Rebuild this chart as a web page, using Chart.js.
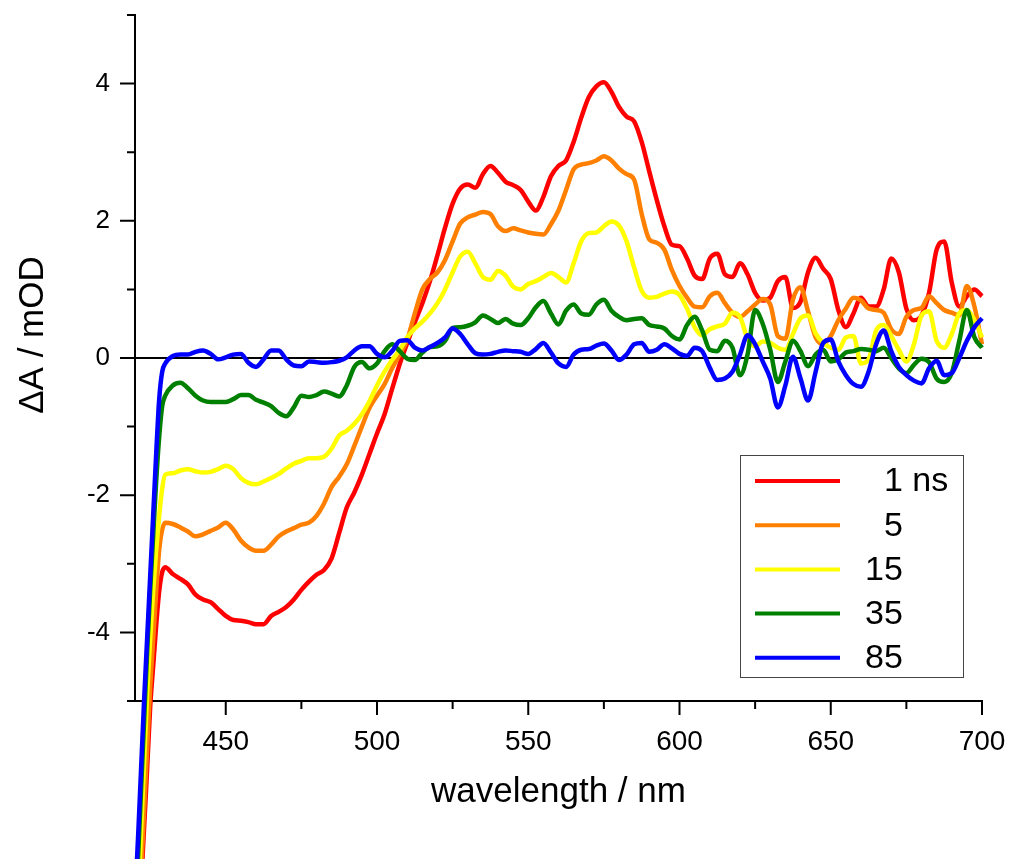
<!DOCTYPE html>
<html><head><meta charset="utf-8">
<style>html,body{margin:0;padding:0;background:#fff;}#wrap{width:1011px;height:859px;}</style>
</head><body><div id="wrap"><canvas id="c" width="1011" height="859"></canvas></div>
<script src="https://cdn.jsdelivr.net/npm/chart.js@4"></script>
<script>
const wavelengths = [420,421,422,423,424,425,426,427,428,429,
430,432.5,435,437.5,440,442.5,445,447.5,450,452.5,455,457.5,460,462.5,465,467.5,470,472.5,475,477.5,480,482.5,485,487.5,490,492.5,495,497.5,500,
502.5,505,507.5,510,512.5,515,517.5,520,522.5,525,527.5,530,532.5,535,537.5,540,542.5,545,547.5,550,
552.5,555,557.5,560,562.5,565,567.5,570,572.5,575,577.5,580,582.5,585,587.5,590,592.5,595,597.5,600,
602.5,605,607.5,610,612.5,615,617.5,620,622.5,625,627.5,630,632.5,635,637.5,640,642.5,645,647.5,650,
652.5,655,657.5,660,662.5,665,667.5,670,672.5,675,677.5,680,682.5,685,687.5,690,692.5,695,697.5,700];

const s1ns = [-9.5,-8.6,-7.7,-6.85,-6.0,-5.1,-4.5,-3.9,-3.4,-3.12,
-3.05,-3.15,-3.22,-3.30,-3.45,-3.52,-3.56,-3.66,-3.76,-3.82,-3.83,-3.85,-3.88,-3.88,-3.76,-3.70,-3.63,-3.52,-3.38,-3.26,-3.16,-3.09,-2.92,-2.55,-2.18,-1.96,-1.70,-1.40,-1.10,
-0.82,-0.45,-0.09,0.22,0.52,0.80,1.12,1.50,1.90,2.25,2.47,2.53,2.48,2.68,2.80,2.70,2.57,2.52,2.45,2.28,
2.15,2.35,2.65,2.80,2.88,3.15,3.50,3.80,3.96,4.02,3.88,3.66,3.52,3.45,3.15,2.72,2.30,1.92,1.65,1.63,
1.45,1.20,1.15,1.45,1.52,1.22,1.18,1.38,1.22,0.95,0.84,0.88,1.12,1.18,0.73,0.82,1.25,1.46,1.30,1.15,
0.70,0.45,0.65,0.88,0.75,0.75,1.00,1.45,1.25,0.72,0.55,0.62,0.95,1.58,1.70,1.10,0.75,0.90,1.00,0.90];

const s5ns = [-9.3,-8.4,-7.5,-6.6,-5.7,-4.8,-4.1,-3.4,-2.8,-2.5,
-2.40,-2.42,-2.47,-2.53,-2.60,-2.57,-2.52,-2.47,-2.40,-2.50,-2.66,-2.76,-2.81,-2.81,-2.72,-2.60,-2.53,-2.48,-2.43,-2.40,-2.30,-2.12,-1.88,-1.73,-1.55,-1.28,-1.00,-0.73,-0.55,
-0.38,-0.15,0.05,0.27,0.65,1.00,1.15,1.25,1.43,1.70,1.96,2.05,2.09,2.13,2.10,1.92,1.85,1.89,1.86,1.83,
1.81,1.80,1.95,2.15,2.45,2.75,2.82,2.84,2.88,2.94,2.88,2.76,2.68,2.60,2.10,1.73,1.68,1.58,1.28,1.05,
0.88,0.75,0.74,0.90,0.95,0.80,0.66,0.60,0.68,0.78,0.86,0.78,0.32,0.28,0.85,1.03,0.68,0.30,0.20,0.32,
0.55,0.72,0.88,0.84,0.72,0.70,0.66,0.42,0.35,0.60,0.70,0.73,0.90,0.80,0.70,0.66,0.62,1.05,0.75,0.20];

const s15ns = [-8.9,-7.9,-6.9,-5.9,-4.9,-4.1,-3.4,-2.8,-2.3,-1.9,
-1.70,-1.68,-1.64,-1.62,-1.65,-1.67,-1.66,-1.62,-1.57,-1.62,-1.75,-1.82,-1.84,-1.80,-1.75,-1.69,-1.61,-1.54,-1.50,-1.46,-1.46,-1.44,-1.32,-1.13,-1.06,-0.96,-0.82,-0.63,-0.40,
-0.20,-0.03,0.12,0.30,0.43,0.53,0.65,0.80,1.00,1.25,1.48,1.55,1.38,1.18,1.14,1.27,1.20,1.04,1.00,1.08,
1.12,1.18,1.24,1.18,1.10,1.38,1.70,1.82,1.83,1.92,1.99,1.93,1.70,1.32,0.98,0.88,0.89,0.94,0.97,0.92,
0.72,0.45,0.33,0.42,0.46,0.50,0.66,0.60,0.28,0.17,0.24,0.22,0.15,0.12,0.35,0.58,0.62,0.36,0.22,0.15,
0.12,0.30,0.32,-0.08,-0.02,0.40,0.48,0.32,0.12,-0.05,0.20,0.62,0.68,0.25,0.15,0.35,0.65,0.70,0.55,0.30];

const s35ns = [-8.2,-7.3,-6.3,-5.3,-4.3,-3.4,-2.6,-1.8,-1.15,-0.7,
-0.55,-0.40,-0.36,-0.44,-0.55,-0.62,-0.64,-0.64,-0.64,-0.60,-0.54,-0.54,-0.61,-0.65,-0.70,-0.80,-0.85,-0.72,-0.55,-0.57,-0.54,-0.49,-0.52,-0.56,-0.40,-0.13,-0.06,-0.15,-0.08,
0.10,0.20,0.10,-0.01,-0.03,0.08,0.16,0.17,0.25,0.44,0.45,0.47,0.52,0.62,0.57,0.51,0.57,0.50,0.48,0.58,
0.74,0.83,0.65,0.49,0.69,0.78,0.65,0.63,0.78,0.85,0.69,0.60,0.55,0.57,0.58,0.48,0.46,0.43,0.32,0.27,
0.48,0.60,0.40,0.12,0.10,0.25,0.15,-0.25,0.05,0.70,0.50,0.12,-0.35,-0.05,0.25,0.10,-0.12,0.05,0.12,-0.05,
-0.02,0.08,0.10,0.13,0.12,0.10,0.15,0.00,-0.15,-0.22,-0.10,-0.01,-0.06,-0.30,-0.35,-0.22,0.25,0.70,0.30,0.15];

const s85ns = [-7.9,-7.0,-6.0,-5.0,-4.1,-3.2,-2.3,-1.4,-0.6,-0.2,
-0.08,0.03,0.05,0.05,0.09,0.11,0.06,-0.02,0.01,0.05,0.06,-0.07,-0.13,-0.02,0.11,0.11,-0.02,-0.11,-0.12,-0.05,-0.06,-0.07,-0.06,-0.04,0.01,0.11,0.17,0.17,0.06,
0.01,0.10,0.25,0.26,0.15,0.11,0.16,0.22,0.30,0.43,0.35,0.20,0.07,0.05,0.06,0.09,0.11,0.10,0.09,0.06,
0.13,0.22,0.08,-0.08,-0.13,0.05,0.12,0.13,0.18,0.21,0.11,-0.03,0.05,0.20,0.22,0.09,0.12,0.20,0.14,0.06,
0.03,0.15,0.10,-0.14,-0.32,-0.30,-0.20,0.05,0.33,0.20,-0.05,-0.30,-0.72,-0.40,0.02,-0.30,-0.62,-0.20,0.22,0.27,
-0.05,-0.25,-0.38,-0.42,-0.20,0.20,0.40,0.10,-0.13,-0.25,-0.33,-0.37,-0.15,-0.04,-0.25,-0.22,0.00,0.25,0.45,0.58];

const seriesLabels = ['1 ns', '5', '15', '35', '85'];
const seriesColors = ['#ff0000', '#ff8000', '#ffff00', '#008000', '#0000ff'];
const xTickValues = [450, 500, 550, 600, 650, 700];
const xMinorValues = [425, 475, 525, 575, 625, 675];
const yTickValues = [-4, -2, 0, 2, 4];
const yMinorValues = [-5, -3, -1, 1, 3, 5];
const xTitle = 'wavelength / nm';
const yTitle = '\u0394A / mOD';

const FONT = '"Liberation Sans", Arial, Helvetica, sans-serif';
const allSeries = [s1ns, s5ns, s15ns, s35ns, s85ns];

const decor = {
  id: 'decor',
  beforeDatasetsDraw(chart) {
    const {ctx, chartArea: a, scales: {x, y}} = chart;
    ctx.save();
    ctx.strokeStyle = '#000';
    ctx.lineWidth = 2;
    const y0 = y.getPixelForValue(0);
    ctx.beginPath(); ctx.moveTo(a.left, y0); ctx.lineTo(a.right, y0); ctx.stroke();
    ctx.beginPath();
    xTickValues.forEach(v => { const p = x.getPixelForValue(v); ctx.moveTo(p, a.bottom); ctx.lineTo(p, a.bottom + 14); });
    xMinorValues.forEach(v => { const p = x.getPixelForValue(v); ctx.moveTo(p, a.bottom); ctx.lineTo(p, a.bottom + 8); });
    yTickValues.forEach(v => { const p = y.getPixelForValue(v); ctx.moveTo(a.left - 15, p); ctx.lineTo(a.left, p); });
    yMinorValues.forEach(v => { const p = y.getPixelForValue(v); ctx.moveTo(a.left - 8, p); ctx.lineTo(a.left, p); });
    ctx.stroke();
    ctx.restore();
  },
  afterDraw(chart) {
    const {ctx, chartArea: a} = chart;
    ctx.save();
    ctx.fillStyle = '#000';
    ctx.font = '35px ' + FONT;
    ctx.textAlign = 'center';
    ctx.textBaseline = 'alphabetic';
    ctx.fillText(xTitle, (a.left + a.right) / 2, 802);
    ctx.save();
    ctx.translate(43, 335);
    ctx.rotate(-Math.PI / 2);
    ctx.fillText(yTitle, 0, 0);
    ctx.restore();
    // legend
    ctx.font = '34px ' + FONT;
    ctx.strokeStyle = '#444';
    ctx.lineWidth = 1;
    ctx.strokeRect(740.5, 455.5, 223, 222);
    const digitW = ctx.measureText('0').width;
    chart.data.datasets.forEach((ds, i) => {
      const ly = 481 + i * 44.2;
      ctx.strokeStyle = ds.borderColor;
      ctx.lineWidth = 4;
      ctx.beginPath(); ctx.moveTo(755, ly); ctx.lineTo(840, ly); ctx.stroke();
      ctx.textAlign = 'left';
      ctx.textBaseline = 'middle';
      const lbl = ds.label;
      const first = lbl.split(' ')[0];
      const off = first.length === 1 ? digitW : 0;
      ctx.fillText(lbl, 865 + off, ly + 1);
    });
    ctx.restore();
  }
};

const datasets = allSeries.map((s, i) => ({
  label: seriesLabels[i],
  data: wavelengths.map((w, k) => ({x: w, y: s[k]})),
  borderColor: seriesColors[i],
  backgroundColor: seriesColors[i],
  borderWidth: 4.5,
  pointRadius: 0,
  fill: false,
  clip: false,
  cubicInterpolationMode: 'monotone',
  order: allSeries.length - i
}));

new Chart(document.getElementById('c'), {
  type: 'line',
  data: { datasets },
  options: {
    responsive: false,
    animation: false,
    devicePixelRatio: 1,
    layout: { padding: { left: 0, right: 29, top: 15, bottom: 0 } },
    plugins: { legend: { display: false }, tooltip: { enabled: false } },
    scales: {
      x: {
        type: 'linear', min: 420, max: 700,
        afterBuildTicks: s => { s.ticks = xTickValues.map(v => ({ value: v })); },
        afterFit: s => { s.height = 158; s.paddingLeft = 0; s.paddingRight = 0; },
        grid: { display: false, drawTicks: true, tickLength: 14 },
        border: { display: true, color: '#000', width: 2 },
        ticks: { color: '#000', font: { family: FONT, size: 28 }, padding: 10, maxRotation: 0, autoSkip: false }
      },
      y: {
        type: 'linear', min: -5, max: 5,
        afterBuildTicks: s => { s.ticks = yTickValues.map(v => ({ value: v })); },
        afterFit: s => { s.width = 135; s.paddingTop = 0; s.paddingBottom = 0; },
        grid: { display: false, drawTicks: true, tickLength: 15 },
        border: { display: true, color: '#000', width: 2 },
        ticks: { color: '#000', font: { family: FONT, size: 26 }, padding: 10 }
      }
    }
  },
  plugins: [decor]
});
</script>
</body></html>
